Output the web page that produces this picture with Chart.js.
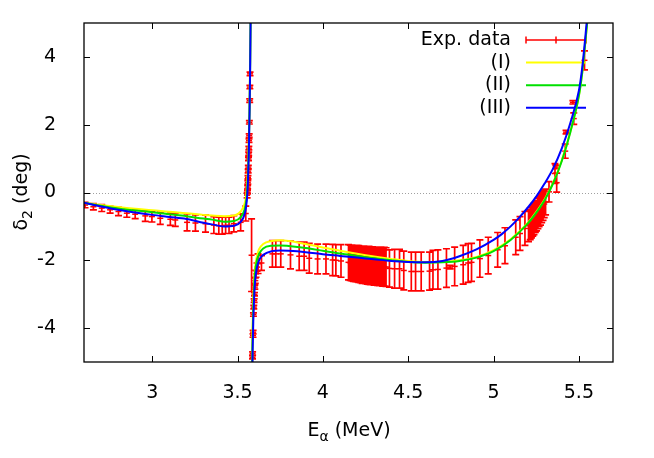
<!DOCTYPE html>
<html>
<head>
<meta charset="utf-8">
<script src="https://cdn.jsdelivr.net/npm/chart.js@4/dist/chart.umd.min.js"></script>
<style>
html, body { margin: 0; padding: 0; background: #fff; }
</style>
</head>
<body>
<canvas id="phase" width="654" height="458"></canvas>
<script>
// experimental phase shifts: energy (MeV), delta_2 (deg), error (deg)
const expE = [2.606, 2.655, 2.704, 2.753, 2.802, 2.851, 2.900, 2.959, 2.998, 3.047, 3.106, 3.135, 3.204, 3.253, 3.312, 3.361, 3.390, 3.410, 3.430, 3.450, 3.478, 3.518, 3.548,
    3.556, 3.558, 3.559, 3.560, 3.561, 3.562, 3.563, 3.564, 3.565, 3.566, 3.567, 3.568, 3.569, 3.571, 3.572, 3.573,
    3.582,
    3.5875, 3.588, 3.5905, 3.591, 3.593, 3.595, 3.597, 3.599, 3.601, 3.604, 3.608, 3.614,
    3.620, 3.640, 3.704, 3.724, 3.753, 3.810, 3.861, 3.890, 3.920, 3.969, 4.018, 4.057, 4.076, 4.106,
    4.15, 4.16, 4.17, 4.18, 4.19, 4.20, 4.21, 4.22, 4.23, 4.24, 4.25, 4.26, 4.27, 4.28, 4.29, 4.30, 4.31, 4.32, 4.33, 4.34, 4.35, 4.36, 4.37,
    4.390, 4.420, 4.449, 4.474, 4.518, 4.543, 4.576, 4.625, 4.645, 4.674, 4.724, 4.745, 4.772, 4.822, 4.851, 4.871, 4.920, 4.969,
    5.024, 5.067, 5.130, 5.155, 5.184,
    5.205, 5.215, 5.222, 5.230, 5.237, 5.245, 5.252, 5.260, 5.267, 5.275, 5.282, 5.290, 5.297, 5.305,
    5.325, 5.360, 5.365, 5.370, 5.420, 5.425, 5.465, 5.470, 5.533];
const expD = [-0.37, -0.42, -0.46, -0.51, -0.56, -0.61, -0.64, -0.69, -0.71, -0.76, -0.79, -0.81, -0.88, -0.90, -0.92, -0.96, -0.98, -0.98, -0.97, -0.97, -0.92, -0.88, -0.62,
    -0.08, 0.01, 0.16, 0.30, 0.45, 0.63, 0.75, 0.99, 1.14, 1.31, 1.53, 1.68, 2.07, 2.71, 3.11, 3.50,
    -1.85,
    -4.86, -4.75, -4.22, -4.12, -3.60, -3.38, -3.19, -3.00, -2.79, -2.60, -2.40, -2.20,
    -2.10, -2.08, -1.81, -1.81, -1.81, -1.84, -1.88, -1.88, -1.94, -1.96, -1.96, -1.99, -2.00, -2.02,
    -2.06, -2.07, -2.08, -2.09, -2.10, -2.10, -2.11, -2.12, -2.13, -2.13, -2.14, -2.15, -2.15, -2.16, -2.16, -2.17, -2.17, -2.18, -2.18, -2.18, -2.19, -2.19, -2.20,
    -2.24, -2.25, -2.25, -2.30, -2.33, -2.33, -2.33, -2.32, -2.28, -2.27, -2.23, -2.20, -2.18, -2.13, -2.08, -2.06, -1.95, -1.86,
    -1.69, -1.57, -1.32, -1.21, -1.06,
    -0.98, -0.92, -0.88, -0.83, -0.78, -0.73, -0.68, -0.62, -0.57, -0.52, -0.46, -0.40, -0.34, -0.28,
    0.02, 0.56, 0.75, 0.29, 1.22, 1.78, 2.66, 2.18, 3.90];
const expErr = [0.08, 0.09, 0.10, 0.10, 0.12, 0.12, 0.13, 0.16, 0.16, 0.18, 0.18, 0.19, 0.25, 0.24, 0.25, 0.25, 0.25, 0.25, 0.24, 0.24, 0.24, 0.25, 0.22,
    0.08, 0.05, 0.05, 0.05, 0.05, 0.05, 0.05, 0.05, 0.05, 0.05, 0.05, 0.05, 0.05, 0.05, 0.05, 0.05,
    1.07,
    0.05, 0.05, 0.05, 0.05, 0.05, 0.05, 0.05, 0.05, 0.06, 0.08, 0.10, 0.12,
    0.29, 0.22, 0.39, 0.39, 0.39, 0.41, 0.42, 0.42, 0.44, 0.44, 0.44, 0.46, 0.46, 0.48,
    0.52, 0.52, 0.53, 0.53, 0.53, 0.54, 0.54, 0.54, 0.55, 0.55, 0.55, 0.55, 0.56, 0.56, 0.56, 0.56, 0.56, 0.56, 0.57, 0.57, 0.57, 0.57, 0.57,
    0.55, 0.57, 0.57, 0.57, 0.57, 0.57, 0.57, 0.56, 0.57, 0.58, 0.57, 0.05, 0.57, 0.57, 0.57, 0.56, 0.55, 0.54,
    0.51, 0.53, 0.51, 0.50, 0.50,
    0.47, 0.47, 0.46, 0.46, 0.46, 0.45, 0.45, 0.45, 0.44, 0.44, 0.43, 0.42, 0.40, 0.38,
    0.30, 0.29, 0.05, 0.28, 0.21, 0.05, 0.05, 0.17, 0.28];

// fit (I)
const fit1E = [2.6, 2.7, 2.8, 2.9, 3.0, 3.1, 3.2, 3.3, 3.35, 3.42, 3.48, 3.52, 3.54, 3.55, 3.555, 3.56, 3.565, 3.57, 3.574, 3.577,
    3.58,
    3.584, 3.586, 3.59, 3.595, 3.6, 3.61, 3.625, 3.65, 3.7, 3.75, 3.8, 3.9, 4.0, 4.1, 4.2, 4.3, 4.4, 4.5, 4.6, 4.7, 4.8, 4.9, 5.0, 5.1, 5.2, 5.25, 5.3, 5.35, 5.4, 5.45, 5.5, 5.52, 5.54, 5.56];
const fit1D = [-0.30, -0.37, -0.43, -0.48, -0.52, -0.57, -0.61, -0.66, -0.68, -0.70, -0.68, -0.55, -0.35, -0.10, 0.20, 0.60, 1.30, 2.50, 4.00, 5.50,
    null,
    -5.50, -4.50, -3.50, -2.80, -2.35, -1.95, -1.68, -1.52, -1.43, -1.41, -1.43, -1.52, -1.62, -1.72, -1.81, -1.89, -1.96, -2.02, -2.05, -2.05, -2.00, -1.90, -1.70, -1.38, -0.90, -0.58, -0.20, 0.30, 0.95, 1.80, 2.85, 3.55, 4.55, 5.60];

// fit (II)
const fit2E = [2.6, 2.7, 2.8, 2.9, 3.0, 3.1, 3.2, 3.3, 3.35, 3.42, 3.48, 3.52, 3.54, 3.55, 3.556, 3.56, 3.565, 3.57, 3.574, 3.577,
    3.581,
    3.585, 3.587, 3.591, 3.596, 3.601, 3.611, 3.627, 3.65, 3.7, 3.75, 3.8, 3.9, 4.0, 4.1, 4.2, 4.3, 4.4, 4.5, 4.6, 4.7, 4.8, 4.9, 5.0, 5.1, 5.2, 5.25, 5.3, 5.35, 5.4, 5.45, 5.5, 5.52, 5.54, 5.56];
const fit2D = [-0.30, -0.39, -0.47, -0.53, -0.58, -0.64, -0.70, -0.77, -0.80, -0.86, -0.84, -0.72, -0.52, -0.28, 0.05, 0.45, 1.20, 2.40, 3.90, 5.50,
    null,
    -5.50, -4.60, -3.60, -2.90, -2.45, -2.05, -1.80, -1.65, -1.57, -1.56, -1.58, -1.64, -1.72, -1.80, -1.87, -1.94, -2.00, -2.05, -2.07, -2.06, -2.02, -1.92, -1.73, -1.40, -0.92, -0.60, -0.22, 0.28, 0.93, 1.78, 2.85, 3.55, 4.55, 5.60];

// fit (III)
const fit3E = [2.6, 2.7, 2.8, 2.9, 3.0, 3.1, 3.2, 3.3, 3.35, 3.42, 3.48, 3.52, 3.54, 3.55, 3.557, 3.562, 3.566, 3.57, 3.574, 3.577,
    3.582,
    3.586, 3.588, 3.592, 3.597, 3.602, 3.612, 3.628, 3.65, 3.7, 3.75, 3.8, 3.9, 4.0, 4.1, 4.2, 4.3, 4.4, 4.5, 4.6, 4.7, 4.8, 4.9, 5.0, 5.05, 5.1, 5.15, 5.2, 5.25, 5.3, 5.35, 5.4, 5.45, 5.5, 5.52, 5.54, 5.56];
const fit3D = [-0.30, -0.41, -0.51, -0.59, -0.66, -0.72, -0.78, -0.89, -0.94, -1.00, -0.98, -0.86, -0.66, -0.42, -0.05, 0.50, 1.20, 2.30, 3.80, 5.50,
    null,
    -5.50, -4.70, -3.80, -3.10, -2.65, -2.25, -1.98, -1.84, -1.73, -1.71, -1.72, -1.76, -1.82, -1.87, -1.92, -1.97, -2.02, -2.05, -2.06, -2.02, -1.88, -1.68, -1.40, -1.22, -1.00, -0.74, -0.45, -0.12, 0.27, 0.72, 1.30, 2.05, 3.00, 3.70, 4.70, 5.80];

const xTicks = [3, 3.5, 4, 4.5, 5, 5.5];
const yTicks = [-4, -2, 0, 2, 4];
const legendLabels = ["Exp. data", "(I)", "(II)", "(III)"];

const FONT = "'DejaVu Sans', sans-serif";
const RED = "#ff0000";
const YELLOW = "#ffff00";
const GREEN = "#00e000";
const BLUE = "#0000ff";
const lineColors = [RED, YELLOW, GREEN, BLUE];

function toPoints(xs, ys) {
    return xs.map((x, i) => ({ x: x, y: ys[i] }));
}

// zero line, error bars and key go under the curves
const underlay = {
    id: "underlay",
    beforeDatasetsDraw(chart) {
        const ctx = chart.ctx;
        const a = chart.chartArea;
        const sx = chart.scales.x;
        const sy = chart.scales.y;

        ctx.save();
        ctx.beginPath();
        ctx.rect(a.left, a.top, a.right - a.left, a.bottom - a.top);
        ctx.clip();

        // dotted zero axis
        const y0 = Math.round(sy.getPixelForValue(0)) + 0.5;
        ctx.strokeStyle = "#a0a0a0";
        ctx.lineWidth = 1;
        ctx.setLineDash([1, 2]);
        ctx.beginPath();
        ctx.moveTo(a.left, y0);
        ctx.lineTo(a.right, y0);
        ctx.stroke();
        ctx.setLineDash([]);

        // error bars
        ctx.strokeStyle = RED;
        ctx.lineWidth = 1.7;
        ctx.beginPath();
        for (let i = 0; i < expE.length; i++) {
            const px = sx.getPixelForValue(expE[i]);
            const top = sy.getPixelForValue(expD[i] + expErr[i]);
            const bot = sy.getPixelForValue(expD[i] - expErr[i]);
            ctx.moveTo(px, top);
            ctx.lineTo(px, bot);
            ctx.moveTo(px - 3.5, top);
            ctx.lineTo(px + 3.5, top);
            ctx.moveTo(px - 3.5, bot);
            ctx.lineTo(px + 3.5, bot);
        }
        ctx.stroke();
        ctx.restore();

        // key
        ctx.save();
        ctx.font = "19px " + FONT;
        ctx.fillStyle = "#000";
        ctx.textAlign = "right";
        ctx.textBaseline = "middle";
        for (let i = 0; i < legendLabels.length; i++) {
            const ly = 40 + i * 22.6;
            ctx.fillText(legendLabels[i], 511, ly);
            ctx.strokeStyle = lineColors[i];
            ctx.lineWidth = i === 0 ? 1.5 : 2;
            ctx.beginPath();
            ctx.moveTo(526, ly);
            ctx.lineTo(586, ly);
            if (i === 0) {
                [526, 556, 586].forEach(cx => {
                    ctx.moveTo(cx, ly - 3.5);
                    ctx.lineTo(cx, ly + 3.5);
                });
            }
            ctx.stroke();
        }
        ctx.restore();
    }
};

// frame, inward ticks and axis titles
const frame = {
    id: "frame",
    afterDraw(chart) {
        const ctx = chart.ctx;
        const a = chart.chartArea;
        const sx = chart.scales.x;
        const sy = chart.scales.y;

        ctx.save();
        ctx.strokeStyle = "#000";
        ctx.lineWidth = 1;
        ctx.beginPath();
        xTicks.forEach(v => {
            const px = Math.round(sx.getPixelForValue(v)) + 0.5;
            ctx.moveTo(px, a.bottom);
            ctx.lineTo(px, a.bottom - 6);
            ctx.moveTo(px, a.top);
            ctx.lineTo(px, a.top + 6);
        });
        yTicks.forEach(v => {
            const py = Math.round(sy.getPixelForValue(v)) + 0.5;
            ctx.moveTo(a.left, py);
            ctx.lineTo(a.left + 6, py);
            ctx.moveTo(a.right, py);
            ctx.lineTo(a.right - 6, py);
        });
        ctx.stroke();
        ctx.lineWidth = 1.3;
        ctx.strokeRect(a.left, a.top, a.right - a.left, a.bottom - a.top);

        // x title: E_alpha (MeV)
        ctx.fillStyle = "#000";
        ctx.textBaseline = "alphabetic";
        ctx.textAlign = "left";
        const big = "19px " + FONT;
        const small = "14px " + FONT;
        ctx.font = big;
        const wE = ctx.measureText("E").width;
        const wRest = ctx.measureText(" (MeV)").width;
        ctx.font = small;
        const wA = ctx.measureText("α").width;
        let tx = 349 - (wE + wA + wRest) / 2;
        const ty = 436;
        ctx.font = big;
        ctx.fillText("E", tx, ty);
        ctx.font = small;
        ctx.fillText("α", tx + wE, ty + 5);
        ctx.font = big;
        ctx.fillText(" (MeV)", tx + wE + wA, ty);

        // y title: delta_2 (deg)
        ctx.translate(27, 192);
        ctx.rotate(-Math.PI / 2);
        ctx.font = big;
        const wD = ctx.measureText("δ").width;
        const wDeg = ctx.measureText(" (deg)").width;
        ctx.font = small;
        const w2 = ctx.measureText("2").width;
        let ux = -(wD + w2 + wDeg) / 2;
        ctx.font = big;
        ctx.fillText("δ", ux, 0);
        ctx.font = small;
        ctx.fillText("2", ux + wD, 5);
        ctx.font = big;
        ctx.fillText(" (deg)", ux + wD + w2, 0);
        ctx.restore();
    }
};

const curve = (label, xs, ys, color, order) => ({
    label: label,
    type: "line",
    data: toPoints(xs, ys),
    borderColor: color,
    backgroundColor: color,
    borderWidth: 2,
    pointRadius: 0,
    spanGaps: false,
    cubicInterpolationMode: "monotone",
    order: order
});

new Chart(document.getElementById("phase"), {
    type: "scatter",
    data: {
        datasets: [
            {
                label: legendLabels[0],
                data: toPoints(expE, expD),
                pointStyle: "line",
                pointRadius: 3,
                borderColor: RED,
                backgroundColor: RED,
                borderWidth: 1.5,
                showLine: false,
                order: 4
            },
            curve(legendLabels[1], fit1E, fit1D, YELLOW, 3),
            curve(legendLabels[2], fit2E, fit2D, GREEN, 2),
            curve(legendLabels[3], fit3E, fit3D, BLUE, 1)
        ]
    },
    options: {
        responsive: false,
        animation: false,
        devicePixelRatio: 1,
        layout: { autoPadding: false, padding: { top: 23, right: 41, left: 0, bottom: 0 } },
        plugins: {
            legend: { display: false },
            tooltip: { enabled: false }
        },
        scales: {
            x: {
                type: "linear",
                min: 2.6,
                max: 5.7,
                grid: { display: false, drawTicks: false, tickLength: 0 },
                border: { display: false },
                afterBuildTicks: s => { s.ticks = xTicks.map(v => ({ value: v })); },
                afterFit: s => {
                    s.height = 96;
                    s.paddingLeft = 0;
                    s.paddingRight = 0;
                },
                ticks: {
                    color: "#000",
                    font: { family: FONT, size: 19 },
                    padding: 20,
                    maxRotation: 0,
                    callback: v => String(v)
                }
            },
            y: {
                type: "linear",
                min: -5,
                max: 5,
                grid: { display: false, drawTicks: false, tickLength: 0 },
                border: { display: false },
                afterBuildTicks: s => { s.ticks = yTicks.map(v => ({ value: v })); },
                afterFit: s => {
                    s.width = 84;
                    s.paddingTop = 0;
                    s.paddingBottom = 0;
                },
                ticks: {
                    color: "#000",
                    font: { family: FONT, size: 19 },
                    padding: 28,
                    callback: v => String(v)
                }
            }
        }
    },
    plugins: [underlay, frame]
});
</script>
</body>
</html>
